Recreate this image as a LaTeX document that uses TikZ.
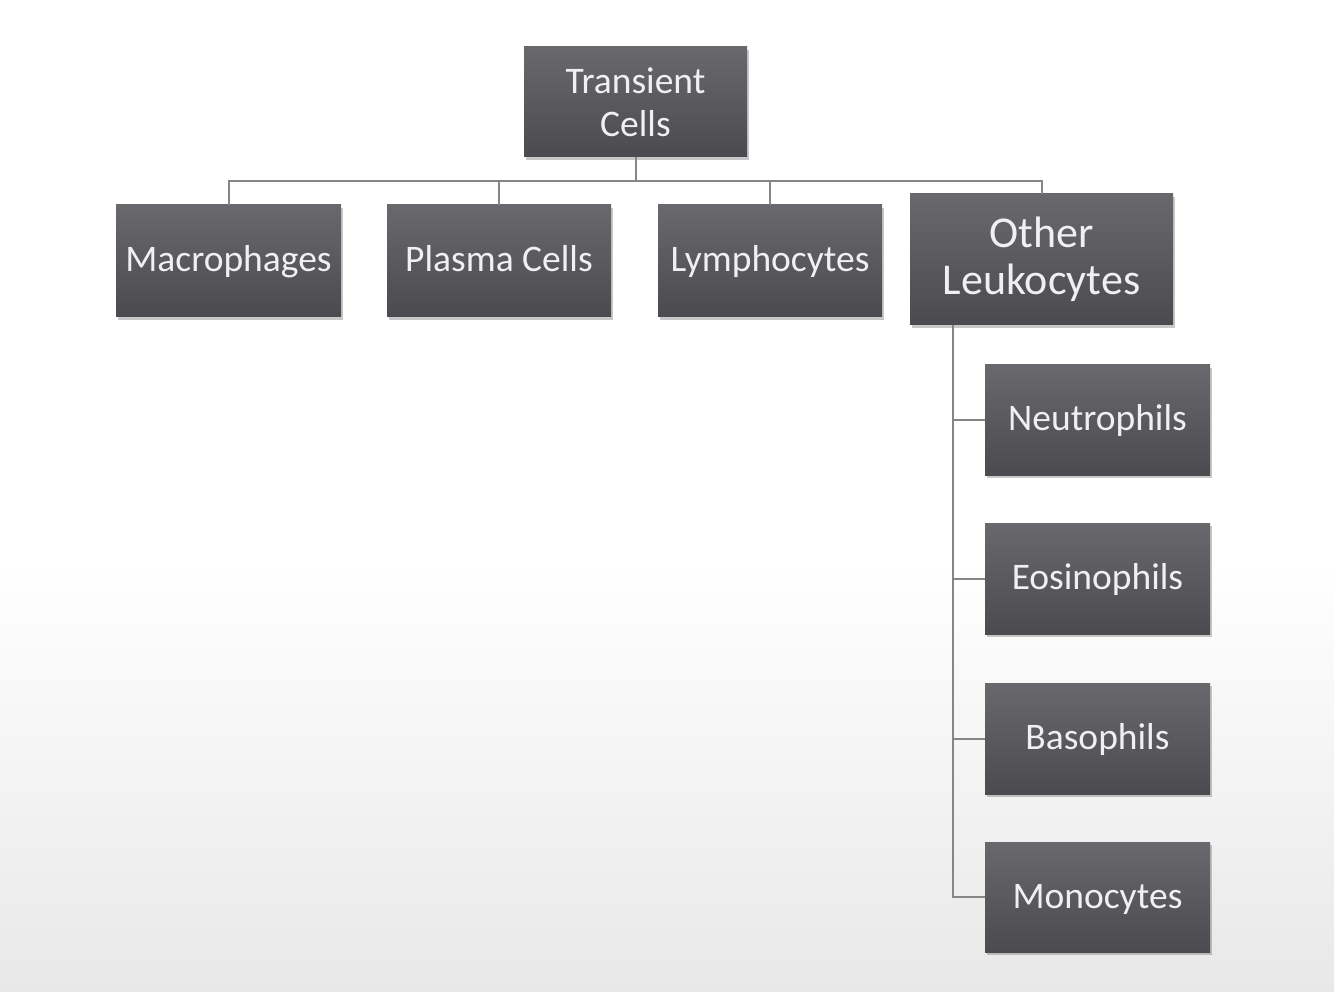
\documentclass[tikz,border=0pt]{standalone}
\usepackage{fontspec}
\setmainfont{Carlito}
\usetikzlibrary{shadows}
\definecolor{boxtop}{HTML}{68686D}
\definecolor{boxbot}{HTML}{4A4A4F}
\definecolor{linegray}{HTML}{868686}
\definecolor{bgbot}{HTML}{E8E8E8}
\tikzset{
  cellbox/.style={rectangle, top color=boxtop, bottom color=boxbot, draw=none,
    text=white!94!black, align=center, inner sep=0pt,
    font=\fontsize{37.5}{43}\selectfont,
    drop shadow={opacity=0.3, shadow xshift=2pt, shadow yshift=-3pt, fill=black!70}},
  oneline/.style={cellbox, text height=26pt, text depth=4pt},
  conn/.style={draw=linegray, line width=2pt}
}
\begin{document}
\begin{tikzpicture}[x=1pt,y=-1pt]
\useasboundingbox (0,0) rectangle (1334,992);
\fill[white] (0,0) rectangle (1334,992);
\shade[top color=white, bottom color=bgbot] (0,560) rectangle (1334,992);
% nodes
\node[cellbox, minimum width=223pt, minimum height=110pt] (tc) at (635.5,102) {Transient\\Cells};
\node[oneline, minimum width=225pt, minimum height=112pt] (mac) at (228.5,261) {Macrophages};
\node[oneline, minimum width=224pt, minimum height=112pt] (pla) at (499,261) {Plasma Cells};
\node[oneline, minimum width=224pt, minimum height=112pt] (lym) at (770,261) {Lymphocytes};
\node[cellbox, minimum width=263pt, minimum height=131pt, font=\fontsize{44}{47}\selectfont] (oth) at (1041.5,259.5) {Other\\Leukocytes};
\node[oneline, minimum width=225pt, minimum height=110pt] (neu) at (1097.5,420) {Neutrophils};
\node[oneline, minimum width=225pt, minimum height=111pt] (eos) at (1097.5,578.5) {Eosinophils};
\node[oneline, minimum width=225pt, minimum height=111pt] (bas) at (1097.5,738.5) {Basophils};
\node[oneline, minimum width=225pt, minimum height=110pt] (mon) at (1097.5,897) {Monocytes};
% connectors
\coordinate (bus) at (635.5,181);
\draw[conn] (tc.south) -- (bus);
\draw[conn] (tc.south |- bus) -| (mac.north);
\draw[conn] (tc.south |- bus) -| (pla.north);
\draw[conn] (tc.south |- bus) -| (lym.north);
\draw[conn] (tc.south |- bus) -| (oth.north);
\coordinate (trunk) at (953,325);
\draw[conn] (trunk |- oth.south) |- (neu.west);
\draw[conn] (trunk |- oth.south) |- (eos.west);
\draw[conn] (trunk |- oth.south) |- (bas.west);
\draw[conn] (trunk |- oth.south) |- (mon.west);
\end{tikzpicture}
\end{document}
